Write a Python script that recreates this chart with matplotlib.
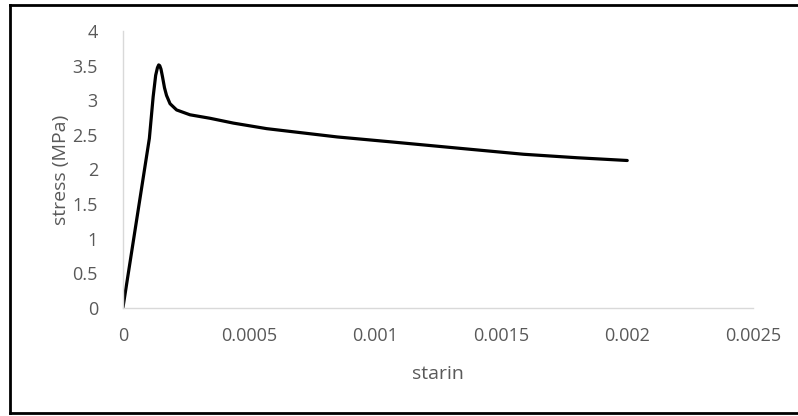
import matplotlib
matplotlib.use('Agg')
import matplotlib.pyplot as plt
from matplotlib.lines import Line2D

# stress-strain curve
strain = [0, 4.2e-5, 1.05e-4, 1.20e-4, 1.30e-4, 1.37e-4, 1.42e-4, 1.46e-4,
          1.51e-4, 1.57e-4, 1.65e-4, 1.73e-4, 1.87e-4, 2.13e-4, 2.66e-4,
          3.45e-4, 4.38e-4, 5.70e-4, 6.63e-4, 8.50e-4, 1.06e-3, 1.324e-3,
          1.589e-3, 1.80e-3, 2.0e-3]
stress = [0, 0.98, 2.45, 3.05, 3.36, 3.47, 3.51, 3.50,
          3.45, 3.34, 3.18, 3.07, 2.95, 2.86, 2.79,
          2.74, 2.67, 2.59, 2.55, 2.47, 2.40, 2.31,
          2.22, 2.17, 2.13]

x_ticks = [0, 0.0005, 0.001, 0.0015, 0.002, 0.0025]
x_tick_labels = ['0', '0.0005', '0.001', '0.0015', '0.002', '0.0025']
y_ticks = [0, 0.5, 1, 1.5, 2, 2.5, 3, 3.5, 4]
y_tick_labels = ['0', '0.5', '1', '1.5', '2', '2.5', '3', '3.5', '4']

plt.rcParams['font.family'] = ['Open Sans', 'DejaVu Sans']
grey = '#595959'

fig = plt.figure(figsize=(7.98, 4.16), dpi=100)
fig.patch.set_facecolor('white')
ax = fig.add_axes([0.154, 0.2596, 0.790, 0.6659])

ax.plot(strain, stress, color='black', linewidth=2.3,
        solid_joinstyle='round', solid_capstyle='round')

ax.set_xlim(0, 0.0025)
ax.set_ylim(0, 4)
ax.set_xticks(x_ticks)
ax.set_xticklabels(x_tick_labels)
ax.set_yticks(y_ticks)
ax.set_yticklabels(y_tick_labels)
ax.tick_params(length=0, labelsize=13, colors=grey)
ax.tick_params(axis='y', pad=18)
ax.tick_params(axis='x', pad=14)

for s in ['top', 'right']:
    ax.spines[s].set_visible(False)
for s in ['left', 'bottom']:
    ax.spines[s].set_color('#D9D9D9')
    ax.spines[s].set_linewidth(1.0)

ax.set_xlabel('starin', fontsize=14, color=grey, labelpad=14)
ax.set_ylabel('stress (MPa)', fontsize=14, color=grey, labelpad=2)

# outer chart border (right side runs off the picture)
W, H = 798.0, 416.0
bx0, by0, by1 = 10 / W, 1 - 413 / H, 1 - 5 / H
for xs, ys in [([bx0, bx0], [by0, by1]),
               ([bx0, 1.01], [by1, by1]),
               ([bx0, 1.01], [by0, by0])]:
    fig.add_artist(Line2D(xs, ys, transform=fig.transFigure,
                          color='black', linewidth=2.0))

fig.savefig('out.png', dpi=100)
